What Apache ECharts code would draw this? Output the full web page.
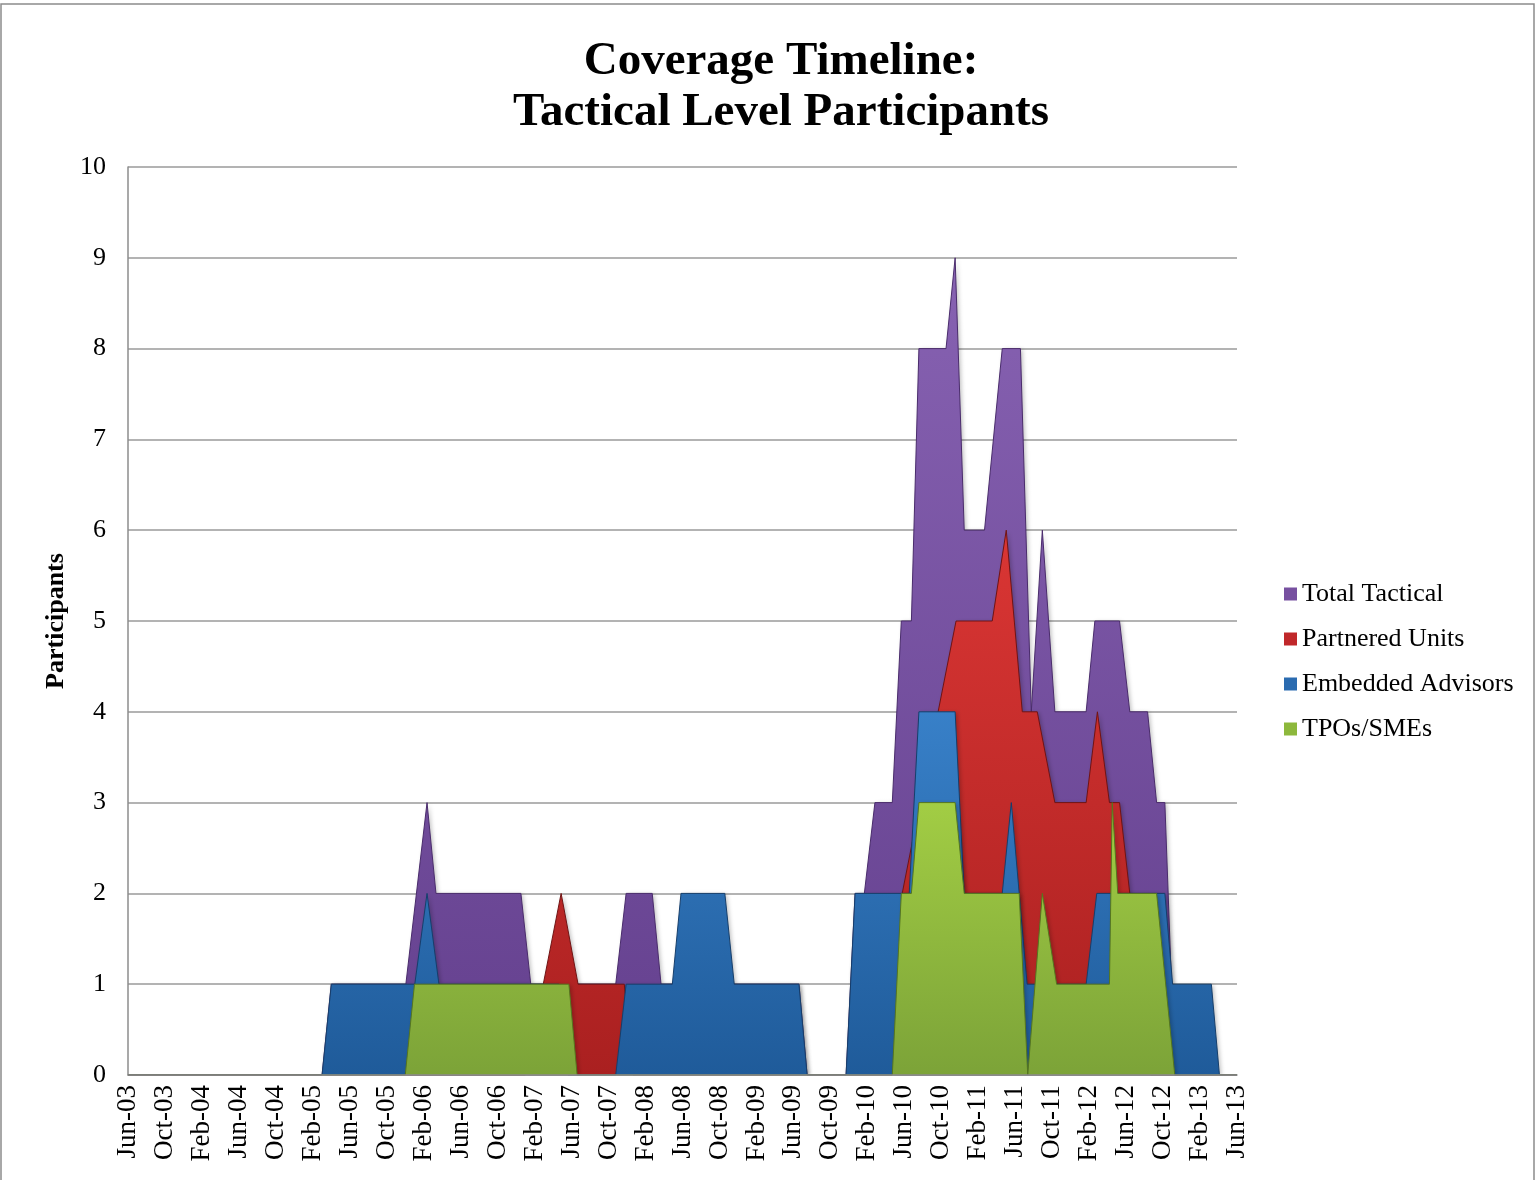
<!DOCTYPE html>
<html>
<head>
<meta charset="utf-8">
<script src="https://cdn.jsdelivr.net/npm/echarts@6/dist/echarts.min.js"></script>
<style>
html,body{margin:0;padding:0;background:#ffffff;}
#chart{width:1536px;height:1180px;}
</style>
</head>
<body>
<div id="chart"></div>
<script>
// ---- tick labels (every 4 months) ----
const tickLabels = ['Jun-03','Oct-03','Feb-04','Jun-04','Oct-04','Feb-05','Jun-05','Oct-05',
  'Feb-06','Jun-06','Oct-06','Feb-07','Jun-07','Oct-07','Feb-08','Jun-08','Oct-08',
  'Feb-09','Jun-09','Oct-09','Feb-10','Jun-10','Oct-10','Feb-11','Jun-11','Oct-11',
  'Feb-12','Jun-12','Oct-12','Feb-13','Jun-13'];

const seriesNames = ['Total Tactical','Partnered Units','Embedded Advisors','TPOs/SMEs'];

// ---- series values: [date, participants] ----
const totalTactical = [
  ['2003-06-01',0],['2005-03-01',0],['2005-04-01',1],['2005-12-03',1],['2006-02-11',3],
  ['2006-03-11',2],['2006-12-17',2],['2007-01-19',1],['2007-10-25',1],['2007-11-28',2],
  ['2008-02-22',2],['2008-03-22',1],['2009-06-19',1],['2009-07-16',0],['2009-11-22',0],
  ['2009-12-22',2],['2010-01-22',2],['2010-02-24',3],['2010-04-22',3],['2010-05-22',5],
  ['2010-06-24',5],['2010-07-19',8],['2010-10-17',8],['2010-11-16',9],['2010-12-16',6],
  ['2011-02-20',6],['2011-04-19',8],['2011-06-18',8],['2011-07-24',4],['2011-08-30',6],
  ['2011-10-10',4],['2012-01-22',4],['2012-02-19',5],['2012-05-10',5],['2012-06-13',4],
  ['2012-08-11',4],['2012-09-10',3],['2012-10-07',3],['2012-11-09',0],['2013-06-01',0]
];
const partneredUnits = [
  ['2003-06-01',0],['2007-01-01',0],['2007-04-27',2],['2007-06-22',1],['2007-11-22',1],
  ['2007-12-21',0],['2010-04-22',0],['2010-05-25',2],['2010-11-19',5],['2011-03-17',5],
  ['2011-05-02',6],['2011-06-24',4],['2011-08-13',4],['2011-10-10',3],['2012-01-22',3],
  ['2012-02-27',4],['2012-04-07',3],['2012-05-10',3],['2012-06-13',2],['2012-08-21',0],
  ['2013-06-01',0]
];
const embeddedAdvisors = [
  ['2003-06-01',0],['2005-03-01',0],['2005-04-01',1],['2006-01-02',1],['2006-02-11',2],
  ['2006-03-21',1],['2007-04-20',1],['2007-05-20',0],['2007-10-25',0],['2007-11-28',1],
  ['2008-04-28',1],['2008-05-27',2],['2008-10-19',2],['2008-11-19',1],['2009-06-19',1],
  ['2009-07-16',0],['2009-11-22',0],['2009-12-22',2],['2010-06-17',2],['2010-07-19',4],
  ['2010-11-16',4],['2010-12-16',2],['2011-04-19',2],['2011-05-19',3],['2011-06-14',2],
  ['2011-07-10',1],['2012-01-22',1],['2012-02-25',2],['2012-10-07',2],['2012-11-02',1],
  ['2013-03-08',1],['2013-04-04',0],['2013-06-01',0]
];
const tposSmes = [
  ['2003-06-01',0],['2005-12-01',0],['2006-01-01',1],['2007-05-23',1],['2007-06-19',0],
  ['2010-04-22',0],['2010-05-22',2],['2010-06-24',2],['2010-07-19',3],['2010-11-16',3],
  ['2010-12-16',2],['2011-06-14',2],['2011-07-12',0],['2011-08-30',2],['2011-10-16',1],
  ['2012-04-07',1],['2012-04-16',3],['2012-05-04',2],['2012-09-10',2],['2012-11-09',0],
  ['2013-06-01',0]
];

// months since 1 Jun 2003 (fractional)
function monthIndex(s){
  const p = s.split('-').map(Number);
  const dim = new Date(p[0], p[1], 0).getDate();
  return (p[0]-2003)*12 + (p[1]-6) + (p[2]-1)/dim;
}

const FONT = '"Liberation Serif", "Times New Roman", serif';
const palette = [
  {main:'#7750A0', top:'#8762B2', bottom:'#64408E', edge:'#4A2C6C'},
  {main:'#C0282A', top:'#DA3634', bottom:'#AA2020', edge:'#701414'},
  {main:'#2A6BB0', top:'#3880C8', bottom:'#1F5B9A', edge:'#163F6C'},
  {main:'#8DB83C', top:'#A2CD44', bottom:'#7CA338', edge:'#56761F'}
];
const allData = [totalTactical, partneredUnits, embeddedAdvisors, tposSmes];

const series = allData.map((d, i) => ({
  name: seriesNames[i],
  type: 'line',
  data: d.map(p => [monthIndex(p[0]), p[1]]),
  symbol: 'none',
  smooth: false,
  z: 2 + i,
  itemStyle: {color: palette[i].main},
  lineStyle: {color: palette[i].edge, width: 1},
  areaStyle: {
    opacity: 1,
    color: new echarts.graphic.LinearGradient(0, 0, 0, 1, [
      {offset: 0, color: palette[i].top},
      {offset: 1, color: palette[i].bottom}
    ]),
    shadowColor: 'rgba(0,0,0,0.25)', shadowBlur: 4, shadowOffsetX: 2, shadowOffsetY: 1
  },
  animation: false
}));

const chart = echarts.init(document.getElementById('chart'), null, {renderer: 'canvas'});
chart.setOption({
  backgroundColor: '#ffffff',
  animation: false,
  title: {
    text: 'Coverage Timeline:\nTactical Level Participants',
    left: 776, top: 31, textAlign: 'center',
    textStyle: {fontFamily: FONT, fontSize: 47, fontWeight: 'bold', color: '#000', lineHeight: 51}
  },
  legend: {
    orient: 'vertical', left: 1279, top: 576,
    icon: 'rect', itemWidth: 13, itemHeight: 13, itemGap: 19,
    textStyle: {fontFamily: FONT, fontSize: 26, color: '#000', lineHeight: 26},
    data: seriesNames
  },
  grid: {left: 128, right: 299, top: 167, bottom: 105, containLabel: false},
  xAxis: {
    type: 'value', min: 0, max: 120, interval: 4, z: 20,
    axisLine: {show: true, lineStyle: {color: '#8C8C8C', width: 1.5}},
    axisTick: {show: false},
    splitLine: {show: false},
    axisLabel: {
      rotate: 90, margin: 10, fontFamily: FONT, fontSize: 27, color: '#000',
      formatter: v => tickLabels[Math.round(v/4)] || ''
    }
  },
  yAxis: {
    type: 'value', min: 0, max: 10, interval: 1,
    name: 'Participants', nameLocation: 'middle', nameGap: 50, nameRotate: 90,
    nameTextStyle: {fontFamily: FONT, fontSize: 26, fontWeight: 'bold', color: '#000'},
    axisLine: {show: true, lineStyle: {color: '#8C8C8C', width: 1.5}},
    axisTick: {show: false},
    splitLine: {show: true, lineStyle: {color: '#9A9A9A', width: 1.5}},
    axisLabel: {fontFamily: FONT, fontSize: 26, color: '#000', margin: 22}
  },
  graphic: [{
    type: 'rect', z: 100, silent: true,
    shape: {x: 1, y: 4, width: 1533, height: 1200},
    style: {fill: 'none', stroke: '#8C8C8C', lineWidth: 1.5}
  }],
  series: series
});
</script>
</body>
</html>
